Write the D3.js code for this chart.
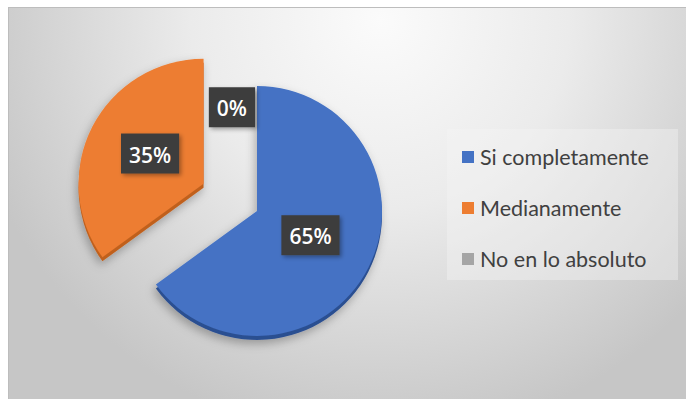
<!DOCTYPE html>
<html>
<head>
<meta charset="utf-8">
<script src="https://cdn.jsdelivr.net/npm/d3@7"></script>
<style>
  html, body { margin: 0; padding: 0; background: #ffffff; }
  svg { display: block; }
</style>
</head>
<body>
<svg id="chart" width="686" height="399"></svg>
<script>
// Survey answers and their shares (percent)
const categories = ["Si completamente", "Medianamente", "No en lo absoluto"];
const values = [65, 35, 0];

// Slice fills and the darker side face of each slice
const colors = ["#4472c4", "#ed7d31", "#a5a5a5"];
const sideColors = ["#2c4f91", "#c0611f", "#7f7f7f"];

const W = 686, H = 399;
const svg = d3.select("#chart");
const defs = svg.append("defs");

// Chart-area background: light at the top centre, darker towards the bottom
const bg = defs.append("radialGradient")
  .attr("id", "bgGrad")
  .attr("gradientUnits", "userSpaceOnUse")
  .attr("cx", 380).attr("cy", 20).attr("r", 420);
bg.append("stop").attr("offset", 0).attr("stop-color", "#fbfbfb");
bg.append("stop").attr("offset", 0.45).attr("stop-color", "#ebebeb");
bg.append("stop").attr("offset", 1).attr("stop-color", "#c6c6c6");

// Soft shadow under the pie
const sh = defs.append("filter").attr("id", "pieShadow")
  .attr("x", "-30%").attr("y", "-30%").attr("width", "160%").attr("height", "160%");
sh.append("feDropShadow")
  .attr("dx", -2).attr("dy", 4).attr("stdDeviation", 5)
  .attr("flood-color", "#000").attr("flood-opacity", 0.28);

// Shadow under the value boxes
const lsh = defs.append("filter").attr("id", "labelShadow")
  .attr("x", "-30%").attr("y", "-30%").attr("width", "160%").attr("height", "160%");
lsh.append("feDropShadow")
  .attr("dx", 2).attr("dy", 2).attr("stdDeviation", 2)
  .attr("flood-color", "#000").attr("flood-opacity", 0.35);

// Chart area with its thin border
svg.append("rect")
  .attr("x", 8.5).attr("y", 7.5)
  .attr("width", W + 10).attr("height", H + 10)
  .attr("fill", "url(#bgGrad)")
  .attr("stroke", "#bdbdbd").attr("stroke-width", 1);

// ---- Pie ----
const cx = 257, cy = 211, R = 125;
const explodeDist = [0, 60, 0];   // distance each slice is pulled out
const depth = 4;                   // thickness of the slice edge

const pie = d3.pie().sort(null).value(d => d)(values);
const arc = d3.arc().innerRadius(0).outerRadius(R);

const offsetOf = (d, i) => {
  const mid = (d.startAngle + d.endAngle) / 2;
  const dist = explodeDist[i];
  return [Math.sin(mid) * dist, -Math.cos(mid) * dist];
};

const pieG = svg.append("g")
  .attr("transform", `translate(${cx},${cy})`)
  .attr("filter", "url(#pieShadow)");

const slices = pieG.selectAll("g.slice")
  .data(pie)
  .join("g")
  .attr("class", "slice")
  .attr("transform", (d, i) => {
    const [ox, oy] = offsetOf(d, i);
    return `translate(${ox},${oy})`;
  });

// side face
slices.append("path")
  .attr("d", arc)
  .attr("transform", `translate(0,${depth})`)
  .attr("fill", (d, i) => sideColors[i]);

// top face
slices.append("path")
  .attr("d", arc)
  .attr("fill", (d, i) => colors[i]);

// ---- Value labels ----
const labelArc = d3.arc().innerRadius(0).outerRadius(R * 0.96);
const fmt = v => `${v}%`;

const labelG = svg.append("g").attr("transform", `translate(${cx},${cy})`);

pie.forEach((d, i) => {
  const [ox, oy] = offsetOf(d, i);
  const g = labelG.append("g");
  const t = g.append("text")
    .text(fmt(values[i]))
    .attr("text-anchor", "middle")
    .attr("dominant-baseline", "central")
    .attr("font-family", "'Open Sans', sans-serif")
    .attr("font-weight", 600)
    .attr("font-size", 21)
    .attr("fill", "#ffffff");
  const tw = t.node().getComputedTextLength();
  const bw = tw + 16, bh = 40;

  let x, y;
  if (d.endAngle - d.startAngle === 0) {
    // empty slice: box sits just left of the slice line, near the rim
    x = Math.sin(d.startAngle) * R * 0.83 - bw / 2 - 2;
    y = -Math.cos(d.startAngle) * R * 0.83;
  } else {
    [x, y] = labelArc.centroid(d);
    x += ox; y += oy - 3;
  }
  g.attr("transform", `translate(${x},${y})`);
  g.insert("rect", "text")
    .attr("x", -bw / 2).attr("y", -bh / 2)
    .attr("width", bw).attr("height", bh)
    .attr("fill", "#3d3d3d")
    .attr("filter", "url(#labelShadow)");
  t.attr("y", 1);
});

// ---- Legend ----
const legendBox = { x: 447, y: 129, w: 231, h: 151 };
svg.append("rect")
  .attr("x", legendBox.x).attr("y", legendBox.y)
  .attr("width", legendBox.w).attr("height", legendBox.h)
  .attr("fill", "#f5f5f5").attr("fill-opacity", 0.4);

const rowY = d3.scalePoint().domain(categories).range([157, 259]);

const items = svg.append("g").selectAll("g")
  .data(categories)
  .join("g")
  .attr("transform", d => `translate(462,${rowY(d)})`);

items.append("rect")
  .attr("x", 0).attr("y", -6)
  .attr("width", 12).attr("height", 12)
  .attr("fill", (d, i) => colors[i]);

items.append("text")
  .attr("x", 18).attr("y", 8)
  .attr("font-family", "Lato, sans-serif")
  .attr("font-size", 21.5)
  .attr("fill", "#404040")
  .text(d => d);
</script>
</body>
</html>
